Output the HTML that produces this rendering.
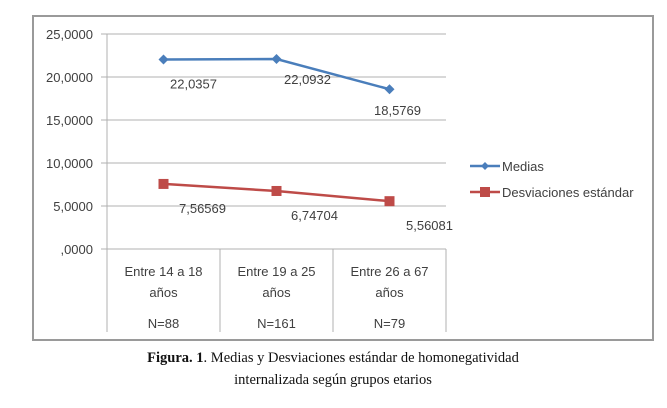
<!DOCTYPE html>
<html><head><meta charset="utf-8"><style>
body{margin:0;background:#fff;width:667px;height:408px;overflow:hidden}
svg{display:block}
.t{font-family:"Liberation Sans",sans-serif;font-size:13px;fill:#404040}
.c{font-family:"Liberation Serif",serif;font-size:14.5px;fill:#111}
</style></head><body>
<svg id="chart" width="667" height="408">
<rect x="33" y="16" width="620" height="324" fill="#fff" stroke="#9a9a9a" stroke-width="2"/>
<g id="grid"></g><g id="axes"></g><g id="series"></g>
<g>
<g>
<line x1="470" y1="166" x2="500" y2="166" stroke="#4a7ebb" stroke-width="2.5"/>
<path d="M485 162 L489 166 L485 170 L481 166Z" fill="#4a7ebb"/>
<text class="t" x="502" y="171" style="fill:#404040">Medias</text></g>
<g>
<line x1="470" y1="192" x2="500" y2="192" stroke="#be4b48" stroke-width="2.5"/>
<rect x="480" y="187" width="10" height="10" fill="#be4b48"/>
<text class="t" x="502" y="197">Desviaciones estándar</text></g>
</g>
<text class="c" x="333" y="362" text-anchor="middle"><tspan font-weight="bold">Figura. 1</tspan>. Medias y Desviaciones estándar de homonegatividad</text>
<text class="c" x="333" y="384" text-anchor="middle">internalizada según grupos etarios</text>
</svg>
<script>
const categories=["Entre 14 a 18|años","Entre 19 a 25|años","Entre 26 a 67|años"];
const nLabels=["N=88","N=161","N=79"];
const medias=[22.0357,22.0932,18.5769];
const desviaciones=[7.56569,6.74704,5.56081];
const mediasLabels=["22,0357","22,0932","18,5769"];
const desvLabels=["7,56569","6,74704","5,56081"];
const yTicks=[0,5000,10000,15000,20000,25000];
const yTickLabels=[",0000","5,0000","10,0000","15,0000","20,0000","25,0000"];
const NS="http://www.w3.org/2000/svg";
const L=107,R=446,T=34,B=249,cw=(R-L)/categories.length;
const y=v=>B-(v/25)*(B-T);
const x=i=>L+cw*(i+0.5);
function mk(tag,at,par){const e=document.createElementNS(NS,tag);for(const k in at)e.setAttribute(k,at[k]);document.getElementById(par).appendChild(e);return e;}
yTicks.forEach((t,i)=>{
 const yy=y(t/1000);
 const g=mk('line',{x1:L-6,x2:R,y1:yy,y2:yy,stroke:'#b0b0b0','stroke-width':1},'grid');
 
 
 const tx=mk('text',{x:L-14,y:yy+5,'text-anchor':'end',class:'t'},'axes');tx.textContent=yTickLabels[i];
 
 
});
mk('line',{x1:L,x2:L,y1:T,y2:332,stroke:'#b0b0b0'},'axes');
for(let i=1;i<=categories.length;i++){mk('line',{x1:L+cw*i,x2:L+cw*i,y1:B,y2:332,stroke:'#b0b0b0'},'axes');}
categories.forEach((c,i)=>{
 const p=c.split('|');
 [p[0],p[1]].forEach((s,j)=>{const t=mk('text',{x:x(i),y:276+j*21,'text-anchor':'middle',class:'t'},'axes');t.textContent=s;
 
 });
 const n=mk('text',{x:x(i),y:328,'text-anchor':'middle',class:'t'},'axes');n.textContent=nLabels[i];
 
 
});
function series(vals,labels,col,shape,name,lo){
 const pl=mk('polyline',{points:vals.map((v,i)=>x(i)+','+y(v)).join(' '),fill:'none',stroke:col,'stroke-width':2.5},'series');
 
 
 vals.forEach((v,i)=>{
  let m;
  if(shape==='d')m=mk('path',{d:`M${x(i)} ${y(v)-5} L${x(i)+5} ${y(v)} L${x(i)} ${y(v)+5} L${x(i)-5} ${y(v)}Z`,fill:col},'series');
  else m=mk('rect',{x:x(i)-5,y:y(v)-5,width:10,height:10,fill:col},'series');
  
  
  const t=mk('text',{x:x(i)+lo[i][0],y:y(v)+lo[i][1],'text-anchor':'middle',class:'t'},'series');t.textContent=labels[i];
  
  
 });
}
series(medias,mediasLabels,'#4a7ebb','d','medias',[[30,29],[31,25],[8,26]]);
series(desviaciones,desvLabels,'#be4b48','s','desviaciones',[[39,29],[38,29],[40,29]]);
</script>
</body></html>
